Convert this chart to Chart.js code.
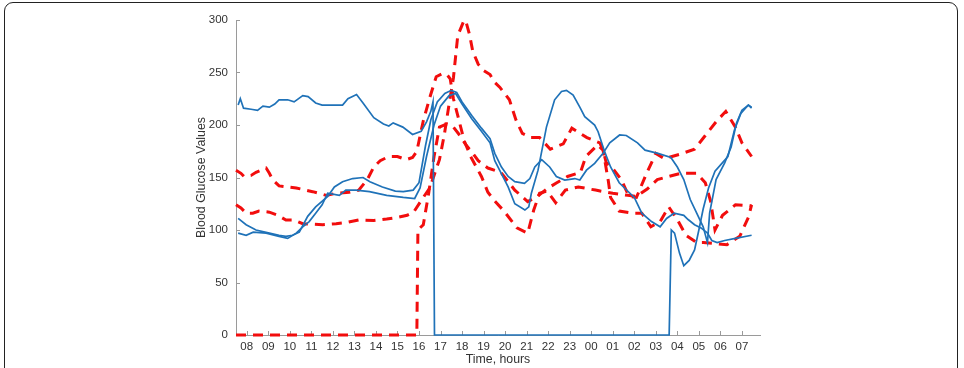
<!DOCTYPE html>
<html>
<head>
<meta charset="utf-8">
<script src="https://cdn.jsdelivr.net/npm/chart.js@4"></script>
<style>
  html, body { margin: 0; padding: 0; background: #fff; overflow: hidden; }
  #wrap { position: relative; width: 964px; height: 368px; }
  #frame { position: absolute; left: 4px; top: 2px; width: 954px; height: 430px; border: 1px solid #222; border-radius: 9px; box-sizing: border-box; }
  canvas { position: absolute; left: 0; top: 0; }
</style>
</head>
<body>
<div id="wrap">
  <div id="frame"></div>
  <canvas id="glucose" width="964" height="368"></canvas>
</div>
<script>
// time axis: hours since midnight of day 1 (08 = 8 ... 07 next day = 31)
let hours = [8, 9, 10, 11, 12, 13, 14, 15, 16, 17, 18, 19, 20, 21, 22, 23, 24, 25, 26, 27, 28, 29, 30, 31]
let hourLabels = ['08', '09', '10', '11', '12', '13', '14', '15', '16', '17', '18', '19', '20', '21', '22', '23', '00', '01', '02', '03', '04', '05', '06', '07']
let yTicks = [0, 50, 100, 150, 200, 250, 300]

// blue solid series [hour, value]
let blue1 = [[7.6,219],[7.7,225],[7.85,216],[8.2,215],[8.5,214],[8.75,218],[9.05,217],[9.3,220],[9.5,224],[9.9,224],[10.2,222],[10.6,228],[10.85,227],[11.2,221],[11.5,219],[12.45,219],[12.7,225],[13.1,229],[13.4,221],[13.9,207],[14.35,201],[14.6,199],[14.8,202],[15.25,198],[15.7,191],[16.1,194],[16.35,203],[16.55,213],[16.65,222],[16.72,0],[27.62,0],[27.72,100],[27.87,97],[28.1,78],[28.3,66],[28.55,71],[28.8,81],[29.0,100],[29.2,120],[29.45,140],[29.75,156],[30.05,163],[30.35,170],[30.65,195],[30.95,211],[31.3,219],[31.45,217]]
let blue2 = [[7.6,111],[7.97,105],[8.43,100],[9.05,97],[9.5,95],[9.82,94],[10.13,95],[10.44,98],[10.83,113],[11.2,122],[11.76,132],[12.07,141],[12.45,146],[12.92,149],[13.4,150],[13.72,146],[14.3,141],[14.9,137],[15.27,136.5],[15.73,138],[16.0,145],[16.3,180],[16.55,205],[16.85,222],[17.2,230],[17.5,233],[17.75,231],[18.0,222],[18.45,209],[18.9,197],[19.3,187],[19.52,173],[19.83,160],[20.14,151],[20.45,146],[20.9,144.5],[21.15,149],[21.38,160],[21.7,167],[22.07,160],[22.38,151],[22.77,147.6],[23.24,149],[23.47,147.6],[23.78,157],[24.16,163.5],[24.55,173],[24.86,183],[25.32,190.5],[25.63,190],[26.15,183],[26.5,176],[27.1,173],[27.7,169],[28.0,160],[28.3,148],[28.6,129],[28.9,116],[29.2,103],[29.4,88],[29.5,116],[29.8,148],[30.2,164],[30.5,179],[30.75,202],[31.0,214],[31.3,219],[31.45,216]]
let blue3 = [[7.6,97],[7.97,95],[8.3,98],[8.9,97],[9.5,94],[9.9,92],[10.3,97],[10.6,103],[10.9,108],[11.2,116],[11.5,124],[11.76,135],[12.3,133],[12.6,138],[13.07,138],[13.7,136.5],[14.5,133],[15.27,131],[15.8,130],[16.05,140],[16.35,170],[16.7,200],[17.0,218],[17.4,228],[17.7,230],[18.0,220],[18.45,206],[18.9,194],[19.3,183],[19.52,166],[20.14,141],[20.45,125],[20.92,119],[21.1,122],[21.22,135],[21.53,157],[21.92,198],[22.3,224],[22.62,232],[22.85,233],[23.16,228.6],[23.47,217],[23.7,208],[24.16,200],[24.32,193.6],[24.6,176],[24.9,160],[25.3,145],[25.8,135],[26.0,131],[26.35,116],[26.8,108],[27.2,103],[27.5,111],[27.85,116],[28.3,114],[28.5,110],[28.8,105],[29.1,102],[29.4,97],[29.6,90],[29.85,88],[30.2,90],[30.7,92],[31.45,95]]

// red dashed series [hour, value]
let red1 = [[7.5,0],[15.9,0],[15.95,100],[16.2,105],[16.45,135],[16.7,170],[16.95,198],[17.3,201],[17.6,198],[17.9,190],[18.15,182],[18.5,173],[18.75,166],[19.2,159],[19.8,155],[20.45,138],[21.05,127],[21.5,132],[22.0,140],[22.4,145],[22.9,151],[23.5,155],[23.75,170],[24.3,181],[24.55,176],[24.8,146],[24.9,131],[25.3,118],[25.9,116],[26.35,116],[26.77,103],[27.2,108],[27.6,122],[28.0,110],[28.4,95],[28.9,88],[29.2,88],[29.8,87],[30.3,86],[30.9,94],[31.3,112],[31.45,124]]
let red2 = [[7.5,157],[7.73,154],[7.87,151],[8.2,152],[8.43,155],[8.9,159],[9.05,154],[9.2,148],[9.5,142],[10.3,140],[11.06,136.5],[11.7,133],[12.15,135],[12.75,136],[13.2,138],[13.6,148],[13.9,160],[14.2,166],[14.6,170],[15.0,170],[15.4,167],[15.7,169],[15.9,175],[16.2,204],[16.5,226],[16.8,246],[17.1,249],[17.3,248],[17.45,244],[17.6,225],[17.85,205],[18.1,185],[18.4,170],[18.9,151],[19.2,136],[19.5,128],[19.95,118],[20.55,102],[21.05,97],[21.33,119],[21.6,135],[21.95,137],[22.35,126],[22.8,138],[23.4,141],[24.2,138],[25.0,135],[25.7,133],[26.1,132],[26.6,139],[27.07,148],[28.15,154],[28.9,154],[29.3,145],[29.55,127],[29.75,100],[30.1,114],[30.7,124],[31.45,123]]
let red3 = [[7.5,124],[7.73,121],[7.97,116],[8.28,116],[8.57,118],[9.05,117],[9.44,114],[9.82,109.5],[10.2,109.5],[10.6,106],[11.53,105],[12.15,106],[12.6,107],[13.2,109.5],[13.9,109],[14.5,110.5],[15.0,112],[15.45,114],[15.75,117],[16.1,128],[16.5,140],[16.95,167],[17.17,190],[17.4,220],[17.6,245],[17.8,285],[18.1,300],[18.2,297],[18.35,286],[18.5,270],[18.75,258],[19.0,252],[19.3,248],[19.5,241],[19.75,236],[20.2,224],[20.5,205],[20.8,192],[21.2,188],[21.6,188],[22.1,177],[22.7,182],[23.1,197],[23.8,188],[24.4,183],[24.55,176],[24.7,164],[24.95,160],[25.4,148],[25.75,132],[26.1,131],[26.53,152],[26.8,164],[27.0,173],[27.4,168],[28.1,172],[28.8,177],[29.3,190],[29.8,203],[30.25,213],[30.7,198],[31.0,183],[31.45,170]]

let canvas_tag = document.getElementById('glucose')
let blue = '#1f72b8'
let red = '#f20d0d'
let fontFamily = 'Liberation Sans, Arial, sans-serif'

function toPoints(arr) {
    return arr.map(p => ({ x: p[0], y: p[1] }))
}

function blueSet(arr) {
    return { data: toPoints(arr), borderColor: blue, borderWidth: 1.7, pointRadius: 0, tension: 0, clip: 6 }
}

function redSet(arr) {
    return { data: toPoints(arr), borderColor: red, borderWidth: 3, borderDash: [10, 7], pointRadius: 0, tension: 0, clip: 6 }
}

// MATLAB style tick marks pointing into the plot
let innerTicks = {
    id: 'innerTicks',
    beforeDatasetsDraw(chart) {
        let { ctx, chartArea, scales } = chart
        ctx.save()
        ctx.strokeStyle = '#9a9a9a'
        ctx.lineWidth = 1
        ctx.beginPath()
        for (let h of hours) {
            let px = Math.round(scales.x.getPixelForValue(h)) + 0.5
            ctx.moveTo(px, chartArea.bottom)
            ctx.lineTo(px, chartArea.bottom - 4)
        }
        for (let v of yTicks) {
            let py = Math.round(scales.y.getPixelForValue(v)) + 0.5
            ctx.moveTo(chartArea.left, py)
            ctx.lineTo(chartArea.left + 4, py)
        }
        ctx.stroke()
        ctx.restore()
    }
}

let myChart = new Chart(canvas_tag, {
    type: 'line',
    data: {
        datasets: [blueSet(blue1), blueSet(blue2), blueSet(blue3), redSet(red1), redSet(red2), redSet(red3)]
    },
    options: {
        responsive: false,
        animation: false,
        layout: { padding: { left: 190, right: 204, top: 20, bottom: 0 } },
        plugins: { legend: { display: false }, tooltip: { enabled: false } },
        scales: {
            x: {
                type: 'linear',
                min: 7.5,
                max: 31.84,
                afterFit: s => { s.height = 33 },
                afterBuildTicks: s => { s.ticks = hours.map(v => ({ value: v })) },
                grid: { display: false, drawTicks: false },
                border: { display: true, color: '#9a9a9a', width: 1 },
                ticks: {
                    autoSkip: false, maxRotation: 0, padding: 5, color: '#333',
                    font: { family: fontFamily, size: 11.5 },
                    callback: (v, i) => hourLabels[i]
                },
                title: {
                    display: true, text: 'Time, hours', color: '#333',
                    padding: { top: 0, bottom: 1 },
                    font: { family: fontFamily, size: 12.3 }
                }
            },
            y: {
                min: 0,
                max: 300,
                afterFit: s => { s.width = 46 },
                afterBuildTicks: s => { s.ticks = yTicks.map(v => ({ value: v })) },
                grid: { display: false, drawTicks: false },
                border: { display: true, color: '#9a9a9a', width: 1 },
                ticks: {
                    padding: 8, color: '#333',
                    font: { family: fontFamily, size: 11.5 }
                },
                title: {
                    display: true, text: 'Blood Glucose Values', color: '#333',
                    padding: { top: 4, bottom: 0 },
                    font: { family: fontFamily, size: 12.4 }
                }
            }
        }
    },
    plugins: [innerTicks]
})
</script>
</body>
</html>
